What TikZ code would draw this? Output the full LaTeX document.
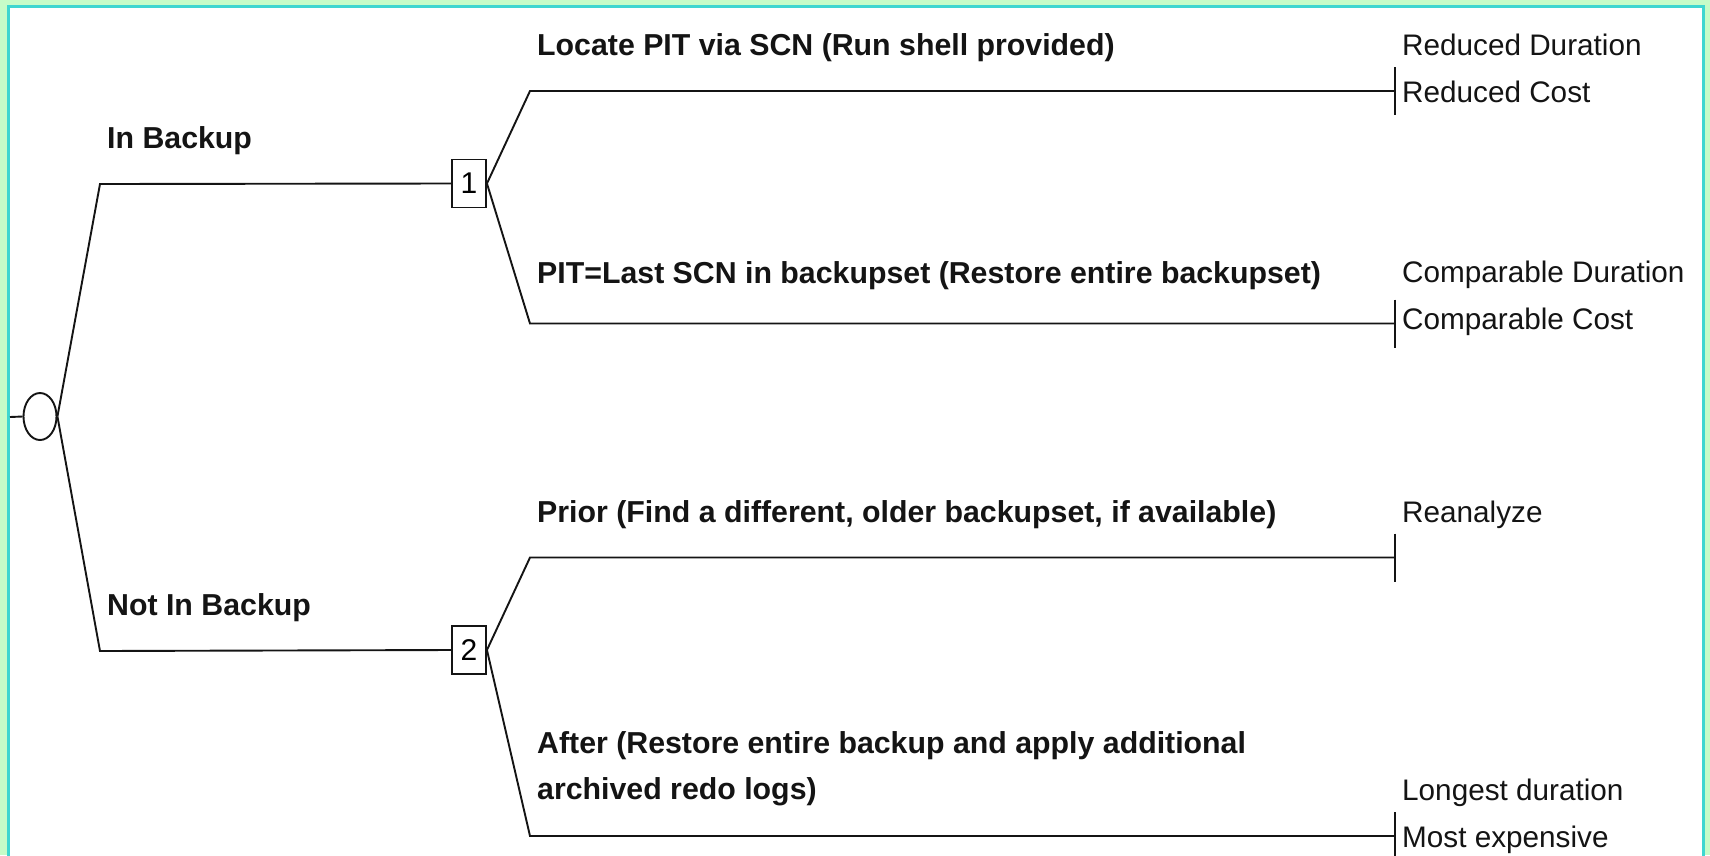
\documentclass[tikz,border=0pt]{standalone}
\usepackage{fontspec}
\setmainfont{Liberation Sans}
\usetikzlibrary{shapes.geometric}
\definecolor{bgreen}{RGB}{198,252,200}
\definecolor{fcyan}{RGB}{62,214,208}
\definecolor{ink}{RGB}{20,20,20}
\tikzset{
  edge/.style={draw=ink, line width=1.9pt},
  chance/.style={ellipse, draw=ink, line width=1.9pt, minimum width=33pt, minimum height=47pt, inner sep=0pt},
  decbox/.style={rectangle, draw=ink, line width=1.9pt, minimum width=34pt, minimum height=48pt, inner sep=0pt, font=\fontsize{30}{36}\selectfont},
  lab/.style={anchor=base west, inner sep=0pt, font=\fontsize{30.3}{36}\selectfont\bfseries, text=ink},
  res/.style={anchor=base west, inner sep=0pt, font=\fontsize{29.7}{36}\selectfont, text=ink},
}
\begin{document}
\begin{tikzpicture}[x=1pt,y=-1pt]
\useasboundingbox (0,0) rectangle (1710,855);
\clip (0,0) rectangle (1710,855);
\fill[bgreen] (0,0) rectangle (1710,855);
\filldraw[fill=white, draw=fcyan, line width=3pt] (8.5,6.5) rectangle (1703,900);

% chance node
\node[chance] (c) at (40,416.5) {};
\coordinate (stub) at (10,417);
\draw[edge] (stub) -- (c.west);

% decision nodes
\node[decbox] (d1) at (469,183.5) {1};
\node[decbox] (d2) at (469,650) {2};
\coordinate (a1) at (100,184);
\coordinate (a2) at (100,651);
\draw[edge] (c.east) -- (a1) -- (d1.west);
\draw[edge] (c.east) -- (a2) -- (d2.west);

% branches
\coordinate (b11) at (530,91);
\coordinate (b12) at (530,323.5);
\coordinate (b21) at (530,557.5);
\coordinate (b22) at (530,836);
\coordinate (t11) at (1395,91);
\coordinate (t12) at (1395,323.5);
\coordinate (t21) at (1395,557.5);
\coordinate (t22) at (1395,836);
\draw[edge] (d1.east) -- (b11) -- (t11);
\draw[edge] (d1.east) -- (b12) -- (t12);
\draw[edge] (d2.east) -- (b21) -- (t21);
\draw[edge] (d2.east) -- (b22) -- (t22);
\foreach \t in {t11,t12,t21,t22}{
  \draw[edge] ([yshift=24pt]\t) -- ([yshift=-24pt]\t);
}

% labels
\node[lab] (lin) at (107,148) {In Backup};
\node[lab] (lnot) at (107,615) {Not In Backup};
\node[lab] (l11) at (537,55) {Locate PIT via SCN (Run shell provided)};
\node[lab] (l12) at (537,283) {PIT=Last SCN in backupset (Restore entire backupset)};
\node[lab] (l21) at (537,522) {Prior (Find a different, older backupset, if available)};
\node[lab] (l22a) at (537,753) {After (Restore entire backup and apply additional};
\node[lab] (l22b) at (537,799) {archived redo logs)};

% results
\node[res] (r11a) at (1402,55) {Reduced Duration};
\node[res] (r11b) at (1402,102) {Reduced Cost};
\node[res] (r12a) at (1402,282) {Comparable Duration};
\node[res] (r12b) at (1402,329) {Comparable Cost};
\node[res] (r21) at (1402,522) {Reanalyze};
\node[res] (r22a) at (1402,800) {Longest duration};
\node[res] (r22b) at (1402,847) {Most expensive};
\end{tikzpicture}
\end{document}
